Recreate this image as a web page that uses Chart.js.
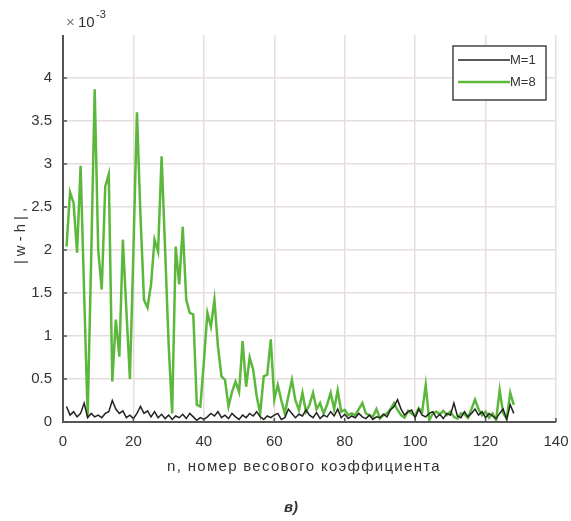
<!DOCTYPE html>
<html>
<head>
<meta charset="utf-8">
<script src="https://cdn.jsdelivr.net/npm/chart.js@4.4.1/dist/chart.umd.min.js"></script>
<style>
  body { margin: 0; background: #fff; }
  #wrap { width: 571px; height: 521px; }
</style>
</head>
<body>
<div id="wrap"><canvas id="chart" width="571" height="521"></canvas></div>
<script>
// |w-h| values, units of 1e-3, for n = 1..128
var m1Values = [
  0.18, 0.08, 0.12, 0.06, 0.10, 0.22, 0.05, 0.10, 0.06, 0.08,
  0.05, 0.10, 0.12, 0.25, 0.15, 0.10, 0.13, 0.05, 0.08, 0.04,
  0.10, 0.18, 0.10, 0.13, 0.06, 0.12, 0.05, 0.09, 0.04, 0.08,
  0.03, 0.07, 0.05, 0.09, 0.04, 0.10, 0.06, 0.02, 0.05, 0.03,
  0.06, 0.10, 0.07, 0.12, 0.05, 0.08, 0.04, 0.10, 0.06, 0.03,
  0.08, 0.05, 0.10, 0.07, 0.12, 0.06, 0.03, 0.07, 0.05, 0.08,
  0.10, 0.03, 0.05, 0.15, 0.10, 0.05, 0.09, 0.07, 0.14, 0.08,
  0.05, 0.11, 0.04, 0.08, 0.06, 0.12, 0.07, 0.15, 0.05, 0.09,
  0.04, 0.07, 0.05, 0.10, 0.06, 0.04, 0.08, 0.03, 0.06, 0.05,
  0.09, 0.06, 0.14, 0.18, 0.26, 0.15, 0.08, 0.12, 0.14, 0.05,
  0.15, 0.08, 0.06, 0.10, 0.12, 0.05, 0.09, 0.04, 0.10, 0.08,
  0.22, 0.07, 0.05, 0.12, 0.06, 0.10, 0.15, 0.08, 0.12, 0.05,
  0.10, 0.07, 0.04, 0.10, 0.15, 0.03, 0.20, 0.10
];
var m8Values = [
  2.04, 2.67, 2.55, 1.97, 2.98, 1.50, 0.06, 1.90, 3.87, 2.00,
  1.54, 2.74, 2.88, 0.47, 1.19, 0.76, 2.12, 1.30, 0.50, 2.00,
  3.60, 2.40, 1.42, 1.33, 1.60, 2.12, 1.98, 3.09, 2.00, 0.90,
  0.10, 2.04, 1.60, 2.27, 1.42, 1.27, 1.25, 0.20, 0.18, 0.70,
  1.27, 1.11, 1.42, 0.88, 0.53, 0.49, 0.18, 0.35, 0.47, 0.35,
  0.94, 0.41, 0.75, 0.61, 0.30, 0.10, 0.53, 0.55, 0.96, 0.26,
  0.43, 0.25, 0.10, 0.30, 0.49, 0.25, 0.14, 0.34, 0.12, 0.20,
  0.34, 0.15, 0.22, 0.10, 0.20, 0.34, 0.15, 0.37, 0.12, 0.14,
  0.08, 0.10, 0.08, 0.15, 0.22, 0.10, 0.08, 0.06, 0.15, 0.04,
  0.08, 0.10, 0.15, 0.22, 0.14, 0.08, 0.05, 0.13, 0.10, 0.07,
  0.16, 0.12, 0.43, 0.02, 0.10, 0.12, 0.09, 0.13, 0.08, 0.12,
  0.06, 0.04, 0.10, 0.09, 0.05, 0.15, 0.26, 0.15, 0.08, 0.12,
  0.05, 0.10, 0.02, 0.37, 0.10, 0.04, 0.34, 0.20
];
var seriesNames = ['M=1', 'M=8'];
var seriesColors = ['#222222', '#5cb83c'];
var xTicks = [0, 20, 40, 60, 80, 100, 120, 140];
var yTicks = [0, 0.5, 1, 1.5, 2, 2.5, 3, 3.5, 4];
var xTitle = 'n, номер весового коэффициента';
var yTitle = '|w-h|,';
var caption = 'в)';

function toPoints(vals){
  var pts = [];
  for (var i = 0; i < vals.length; i++){
    pts.push({x: i + 1, y: vals[i]});
  }
  return pts;
}

var gridColor = '#e6dede';
var axisColor = '#555555';
var textColor = '#333333';
var fontFam = '"Liberation Sans", Arial, sans-serif';

// draws axes lines, inner ticks, titles, legend and caption
var decorPlugin = {
  id: 'decor',
  afterDatasetsDraw: function(chart){
    var ctx = chart.ctx;
    var a = chart.chartArea;
    var xs = chart.scales.x, ys = chart.scales.y;
    ctx.save();
    // axes
    ctx.strokeStyle = axisColor;
    ctx.lineWidth = 2;
    ctx.beginPath();
    ctx.moveTo(a.left, a.top);
    ctx.lineTo(a.left, a.bottom);
    ctx.lineTo(a.right, a.bottom);
    ctx.stroke();
    // inner ticks
    ctx.lineWidth = 1.5;
    ctx.beginPath();
    yTicks.forEach(function(v){
      var py = ys.getPixelForValue(v);
      ctx.moveTo(a.left, py);
      ctx.lineTo(a.left + 4, py);
    });
    xTicks.forEach(function(v){
      var px = xs.getPixelForValue(v);
      ctx.moveTo(px, a.bottom);
      ctx.lineTo(px, a.bottom - 4);
    });
    ctx.stroke();

    // exponent
    ctx.font = '15px ' + fontFam;
    ctx.textAlign = 'left';
    ctx.textBaseline = 'alphabetic';
    ctx.fillStyle = '#777';
    ctx.fillText('×', 66, 27);
    ctx.fillStyle = textColor;
    ctx.fillText('10', 78, 27);
    ctx.font = '11px ' + fontFam;
    ctx.fillText('-3', 96, 18);

    // x title
    ctx.font = '15px ' + fontFam;
    ctx.textAlign = 'center';
    ctx.textBaseline = 'middle';
    ctx.letterSpacing = '1.3px';
    ctx.fillText(xTitle, 304, 467);

    // y title
    ctx.save();
    ctx.translate(21, 234);
    ctx.rotate(-Math.PI / 2);
    ctx.letterSpacing = '4px';
    ctx.fillText(yTitle, 0, 0);
    ctx.restore();
    ctx.letterSpacing = '0px';

    // caption
    ctx.font = 'italic bold 15px ' + fontFam;
    ctx.fillText(caption, 291, 508);

    // legend box
    var lx = 453, ly = 46, lw = 93, lh = 54;
    ctx.fillStyle = '#fff';
    ctx.fillRect(lx, ly, lw, lh);
    ctx.strokeStyle = '#444';
    ctx.lineWidth = 1.5;
    ctx.strokeRect(lx, ly, lw, lh);
    ctx.font = '13px ' + fontFam;
    ctx.textAlign = 'left';
    for (var i = 0; i < seriesNames.length; i++){
      var yy = ly + 14 + i * 22;
      ctx.strokeStyle = seriesColors[i];
      ctx.lineWidth = i == 0 ? 1.5 : 2.5;
      ctx.beginPath();
      ctx.moveTo(lx + 5, yy);
      ctx.lineTo(lx + 57, yy);
      ctx.stroke();
      ctx.fillStyle = textColor;
      ctx.fillText(seriesNames[i], lx + 57, yy);
    }
    ctx.restore();
  }
};

var ctx = document.getElementById('chart');
var chart = new Chart(ctx, {
  type: 'line',
  data: {
    datasets: [{
      label: seriesNames[1],
      data: toPoints(m8Values),
      borderColor: seriesColors[1],
      borderWidth: 2.5,
      pointRadius: 0,
      tension: 0,
      order: 2
    }, {
      label: seriesNames[0],
      data: toPoints(m1Values),
      borderColor: seriesColors[0],
      borderWidth: 1.5,
      pointRadius: 0,
      tension: 0,
      order: 1
    }]
  },
  options: {
    responsive: false,
    animation: false,
    layout: { padding: { left: 0, top: 35, right: 0, bottom: 0 } },
    plugins: { legend: { display: false }, tooltip: { enabled: false } },
    scales: {
      x: {
        type: 'linear',
        min: 0,
        max: 140,
        afterFit: function(scale){ scale.height = 99; scale.paddingRight = 15; },
        afterBuildTicks: function(scale){
          scale.ticks = xTicks.map(function(v){ return {value: v}; });
        },
        border: { display: false },
        grid: { color: gridColor, lineWidth: 1.5, drawTicks: false },
        ticks: {
          padding: 11,
          color: textColor,
          font: { size: 15, family: fontFam },
          callback: function(v){ return String(v); }
        }
      },
      y: {
        min: 0,
        max: 4.5,
        afterFit: function(scale){ scale.width = 63; },
        afterBuildTicks: function(scale){
          scale.ticks = yTicks.map(function(v){ return {value: v}; });
        },
        border: { display: false },
        grid: { color: gridColor, lineWidth: 1.5, drawTicks: false },
        ticks: {
          padding: 11,
          color: textColor,
          font: { size: 15, family: fontFam },
          callback: function(v){ return String(v); }
        }
      }
    }
  },
  plugins: [decorPlugin]
});
</script>
</body>
</html>
